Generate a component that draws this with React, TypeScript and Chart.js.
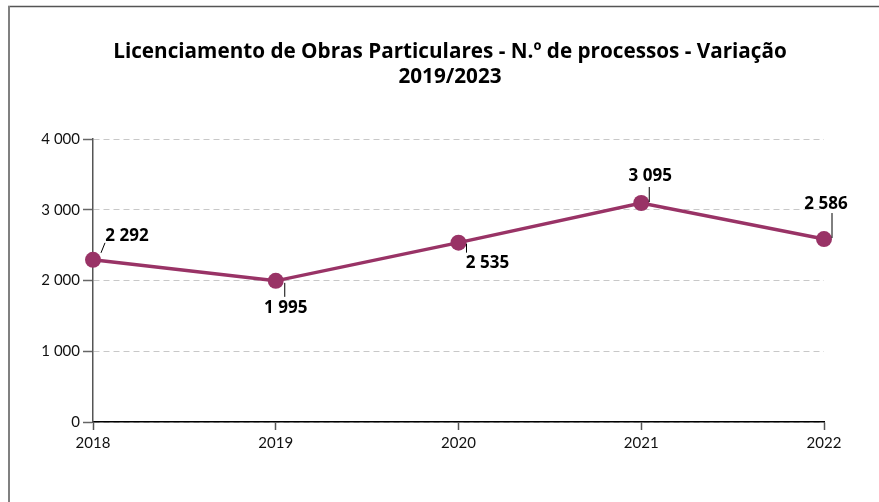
import React, { useEffect, useRef } from "react";
import { Chart, registerables } from "chart.js";

Chart.register(...registerables);

const categories = ["2018", "2019", "2020", "2021", "2022"];
const processos = [2292, 1995, 2535, 3095, 2586];
const valueLabels = ["2 292", "1 995", "2 535", "3 095", "2 586"];
const yTicks = [0, 1000, 2000, 3000, 4000];
const titleLines = [
  "Licenciamento de Obras Particulares - N.º de processos - Variação",
  "2019/2023",
];

// label placement offsets relative to each point (style only)
const labelOffsets = [
  { dx: 34, dy: -24, lx1: 8, ly1: -7, lx2: 12, ly2: -17 },
  { dx: 10, dy: 27, lx1: 9, ly1: 2, lx2: 9, ly2: 16 },
  { dx: 29, dy: 21, lx1: 8, ly1: 1, lx2: 8, ly2: 10 },
  { dx: 9, dy: -27, lx1: 8, ly1: -16, lx2: 8, ly2: -1 },
  { dx: 2, dy: -35, lx1: 8, ly1: -26, lx2: 8, ly2: -1 },
];

const COLOR = "#993366";
const TITLE_WIDTH = 674;
const TITLE_CENTER = 450;
const TITLE_BASELINES = [58, 83];

const formatNum = (v: number) =>
  String(v).replace(/\B(?=(\d{3})+(?!\d))/g, " ");

const framePlugin = {
  id: "frame",
  beforeDraw(chart: any) {
    const ctx = chart.ctx;
    ctx.save();
    ctx.fillStyle = "#ffffff";
    ctx.fillRect(0, 0, chart.width, chart.height);
    ctx.strokeStyle = "#555555";
    ctx.lineWidth = 1.5;
    ctx.beginPath();
    ctx.moveTo(8, 6.5);
    ctx.lineTo(chart.width, 6.5);
    ctx.stroke();
    ctx.strokeStyle = "#808080";
    ctx.lineWidth = 2;
    ctx.beginPath();
    ctx.moveTo(9, 6);
    ctx.lineTo(9, chart.height);
    ctx.stroke();
    ctx.restore();
  },
  afterDraw(chart: any) {
    const ctx = chart.ctx;
    ctx.save();
    ctx.font = "bold 20px 'Open Sans'";
    const w = ctx.measureText(titleLines[0]).width;
    const size = (20 * TITLE_WIDTH) / w;
    ctx.font = `bold ${size.toFixed(2)}px 'Open Sans'`;
    ctx.fillStyle = "#000000";
    ctx.textAlign = "center";
    ctx.textBaseline = "alphabetic";
    titleLines.forEach((t, i) => ctx.fillText(t, TITLE_CENTER, TITLE_BASELINES[i]));
    ctx.restore();
  },
};

const pointLabelPlugin = {
  id: "pointLabels",
  afterDatasetsDraw(chart: any) {
    const ctx = chart.ctx;
    const meta = chart.getDatasetMeta(0);
    ctx.save();
    meta.data.forEach((pt: any, i: number) => {
      const o = labelOffsets[i];
      ctx.strokeStyle = "#000000";
      ctx.lineWidth = 1;
      ctx.beginPath();
      ctx.moveTo(pt.x + o.lx1, pt.y + o.ly1);
      ctx.lineTo(pt.x + o.lx2, pt.y + o.ly2);
      ctx.stroke();
      ctx.fillStyle = "#000000";
      ctx.font = "bold 17px 'Open Sans'";
      ctx.textAlign = "center";
      ctx.textBaseline = "middle";
      ctx.fillText(valueLabels[i], pt.x + o.dx, pt.y + o.dy);
    });
    ctx.restore();
  },
};

export default function App() {
  const ref = useRef<HTMLCanvasElement>(null);

  useEffect(() => {
    if (!ref.current) return;
    const chart = new Chart(ref.current, {
      type: "line",
      data: {
        labels: categories,
        datasets: [
          {
            data: processos,
            borderColor: COLOR,
            backgroundColor: COLOR,
            borderWidth: 3.5,
            pointRadius: 8,
            pointHoverRadius: 8,
            pointBackgroundColor: COLOR,
            pointBorderColor: COLOR,
            pointBorderWidth: 0,
            tension: 0,
            clip: false as any,
          },
        ],
      },
      options: {
        animation: false,
        responsive: false,
        maintainAspectRatio: false,
        layout: { padding: { top: 139, left: 0, right: 55, bottom: 40 } },
        plugins: {
          legend: { display: false },
          tooltip: { enabled: false },
          title: { display: false },
        },
        scales: {
          x: {
            afterFit(scale: any) {
              scale.height = 40;
            },
            grid: {
              display: true,
              drawOnChartArea: false,
              drawTicks: true,
              tickLength: 8,
              tickColor: "#555555",
              tickWidth: 1.5,
            },
            border: { display: true, color: "#000000", width: 1.5 },
            ticks: {
              color: "#111111",
              font: { family: "Lato", size: 15 },
              padding: 4,
              maxRotation: 0,
            },
          },
          y: {
            min: 0,
            max: 4000,
            afterFit(scale: any) {
              scale.width = 93;
            },
            afterBuildTicks(scale: any) {
              scale.ticks = yTicks.map((v) => ({ value: v }));
            },
            grid: {
              color: "#c8c8c8",
              lineWidth: 1,
              drawTicks: true,
              tickLength: 10,
              tickColor: "#666666",
              tickWidth: 1.5,
              tickBorderDash: [],
            },
            border: { display: true, color: "#555555", width: 1.5, dash: [6, 4] },
            ticks: {
              color: "#111111",
              font: { family: "Lato", size: 15 },
              padding: 3,
              callback: (v: any) => formatNum(Number(v)),
            },
          },
        },
      },
      plugins: [framePlugin, pointLabelPlugin],
    });
    return () => chart.destroy();
  }, []);

  return (
    <div style={{ position: "fixed", left: 0, top: 0, width: 879, height: 502 }}>
      <canvas ref={ref} width={879} height={502} style={{ width: 879, height: 502 }} />
    </div>
  );
}
